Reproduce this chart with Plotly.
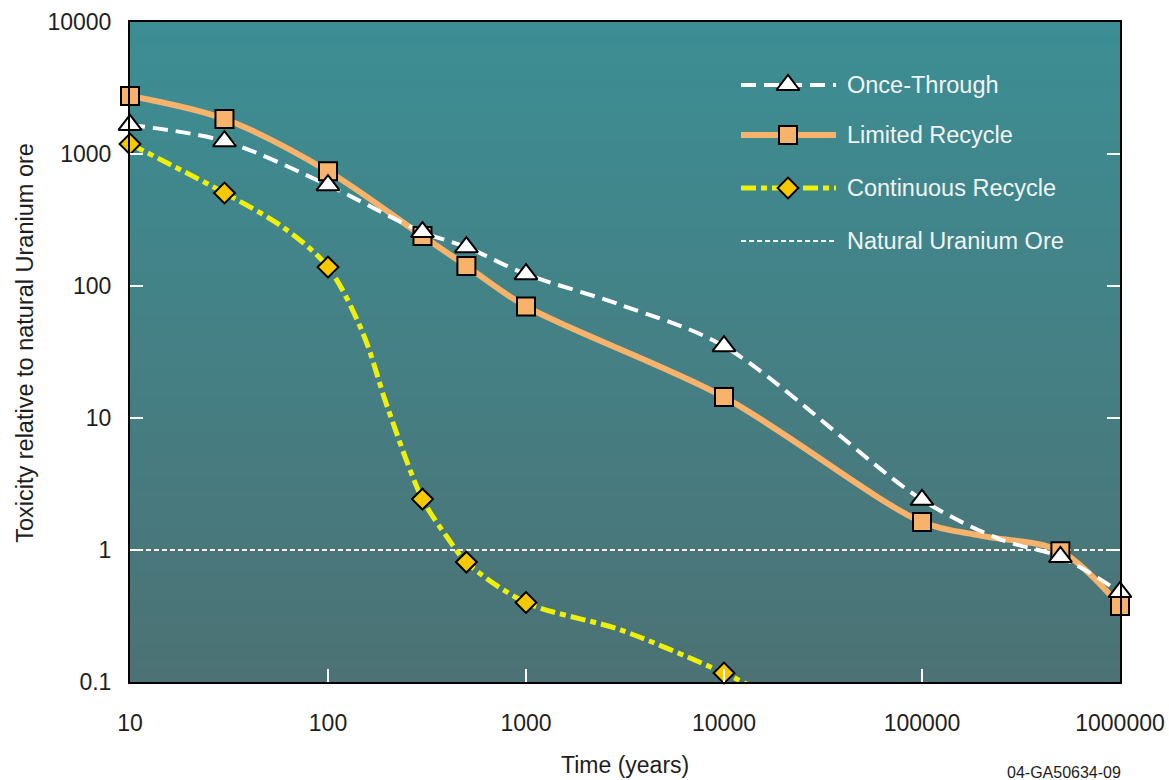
import plotly.graph_objects as go

# ---- data: years after discharge vs. radiotoxicity relative to natural uranium ore
# flag = 1 where a symbol is plotted, 0 for a point that only shapes the curve
ot_years = [10, 30, 100, 300, 500, 1000, 3000, 10000, 100000, 250000, 500000, 1000000]
ot_tox = [1660, 1250, 580, 256, 197, 123, 72, 35, 2.4, 1.2, 0.885, 0.48]
ot_mark = [1, 1, 1, 1, 1, 1, 0, 1, 1, 0, 1, 1]

lr_years = [10, 30, 100, 300, 500, 1000, 10000, 100000, 200000, 500000, 1000000]
lr_tox = [2750, 1840, 740, 239, 142, 70, 14.4, 1.63, 1.28, 0.98, 0.377]
lr_mark = [1, 1, 1, 1, 1, 1, 1, 1, 0, 1, 1]

cr_years = [10, 30, 60, 100, 150, 200, 300, 400, 500, 1000, 3000, 10000, 13000]
cr_tox = [1190, 507, 275, 139, 44, 12, 2.43, 1.25, 0.81, 0.40, 0.248, 0.117, 0.0966]
cr_mark = [1, 1, 0, 1, 0, 0, 1, 0, 1, 1, 0, 1, 0]

ore_level = 1.0

x_ticks = [10, 100, 1000, 10000, 100000, 1000000]
x_tick_text = ["10", "100", "1000", "10000", "100000", "1000000"]
y_ticks = [0.1, 1, 10, 100, 1000, 10000]
y_tick_text = ["0.1", "1", "10", "100", "1000", "10000"]

names = ["Once-Through", "Limited Recycle", "Continuous Recycle", "Natural Uranium Ore"]

# ---- styling
FONT = "Liberation Sans, Arial, Helvetica, sans-serif"
ORANGE = "#F7B26B"
YELLOW = "#EEF00A"
GOLD = "#F6C800"
WHITE = "#FFFFFF"
TEXT = "#1E1E1E"
TOP_BG = (60, 142, 148)
BOTTOM_BG = (76, 114, 117)

ot_line = dict(color=WHITE, width=4, dash="15px,8px")
lr_line = dict(color=ORANGE, width=6)
cr_line = dict(color=YELLOW, width=5, dash="15px,5px,6px,5px")
ore_line = dict(color="#F4F4F4", width=2, dash="5px,3px")

ot_marker = dict(symbol="triangle-up", size=20, color=WHITE, line=dict(color="black", width=2))
lr_marker = dict(symbol="square", size=18, color=ORANGE, line=dict(color="black", width=2))
cr_marker = dict(symbol="diamond", size=16, color=GOLD, line=dict(color="black", width=2))


def picked(values, flags):
    return [v for v, f in zip(values, flags) if f]


fig = go.Figure()

# reference level
fig.add_trace(go.Scatter(x=[x_ticks[0], x_ticks[-1]], y=[ore_level, ore_level],
                         mode="lines", line=ore_line, hoverinfo="skip"))

# smooth curves
fig.add_trace(go.Scatter(x=lr_years, y=lr_tox, mode="lines",
                         line=dict(**lr_line, shape="spline", smoothing=0.9)))
fig.add_trace(go.Scatter(x=ot_years, y=ot_tox, mode="lines",
                         line=dict(**ot_line, shape="spline", smoothing=0.9)))
fig.add_trace(go.Scatter(x=cr_years, y=cr_tox, mode="lines",
                         line=dict(**cr_line, shape="spline", smoothing=0.9)))

# symbols
fig.add_trace(go.Scatter(x=picked(lr_years, lr_mark), y=picked(lr_tox, lr_mark),
                         mode="markers", marker=lr_marker, cliponaxis=False))
fig.add_trace(go.Scatter(x=picked(cr_years, cr_mark), y=picked(cr_tox, cr_mark),
                         mode="markers", marker=cr_marker, cliponaxis=False))
fig.add_trace(go.Scatter(x=picked(ot_years, ot_mark), y=picked(ot_tox, ot_mark),
                         mode="markers", marker=ot_marker, cliponaxis=False))

# ---- legend keys drawn on a hidden overlay axis measured in pixels of the plot area
L_X0, L_X1, L_XM, L_TEXT = 741, 836, 788, 845
L_ROWS = [85, 135, 188, 241]
key_lines = [ot_line, lr_line, cr_line, ore_line]
key_markers = [ot_marker, lr_marker, cr_marker, None]
for row, ln, mk in zip(L_ROWS, key_lines, key_markers):
    fig.add_trace(go.Scatter(x=[L_X0, L_X1], y=[row, row], mode="lines", line=ln,
                             xaxis="x2", yaxis="y2", hoverinfo="skip"))
    if mk is not None:
        fig.add_trace(go.Scatter(x=[L_XM], y=[row], mode="markers", marker=mk,
                                 xaxis="x2", yaxis="y2", hoverinfo="skip"))

annotations = []
for row, name in zip(L_ROWS, names):
    annotations.append(dict(x=L_TEXT, y=row, xref="x2", yref="y2", text=name,
                            showarrow=False, xanchor="left", yanchor="middle",
                            font=dict(family=FONT, size=23.5, color="#F2F4F4")))

# axis titles and figure code
annotations.append(dict(x=0.5, y=-0.126, xref="paper", yref="paper", text="Time (years)",
                        showarrow=False, xanchor="center", yanchor="middle",
                        font=dict(family=FONT, size=23, color=TEXT)))
annotations.append(dict(x=-0.106, y=0.514, xref="paper", yref="paper",
                        text="Toxicity relative to natural Uranium ore", textangle=-90,
                        showarrow=False, xanchor="center", yanchor="middle",
                        font=dict(family=FONT, size=23.5, color=TEXT)))
annotations.append(dict(x=0.943, y=-0.137, xref="paper", yref="paper", text="04-GA50634-09",
                        showarrow=False, xanchor="center", yanchor="middle",
                        font=dict(family=FONT, size=16, color=TEXT)))

# ---- vertical background gradient
shapes = []
n_bands = 90
for i in range(n_bands):
    t = i / (n_bands - 1)
    rgb = tuple(round(a + (b - a) * t) for a, b in zip(TOP_BG, BOTTOM_BG))
    shapes.append(dict(type="rect", xref="x domain", yref="y domain",
                       x0=0, x1=1, y0=1 - (i + 1) / n_bands - 0.002, y1=1 - i / n_bands,
                       fillcolor="rgb(%d,%d,%d)" % rgb, line=dict(width=0), layer="below"))

axis_common = dict(showgrid=False, zeroline=False, showline=True, linecolor="black",
                   linewidth=2, ticks="inside", ticklen=13, tickwidth=2, tickcolor=WHITE,
                   automargin=False,
                   tickfont=dict(family=FONT, size=23, color=TEXT))

fig.update_layout(
    width=1169, height=780,
    margin=dict(l=130, r=49, t=22, b=98),
    paper_bgcolor="white",
    plot_bgcolor="rgb(%d,%d,%d)" % TOP_BG,
    showlegend=False,
    shapes=shapes,
    annotations=annotations,
    xaxis=dict(type="log", range=[1, 6], tickvals=x_ticks, ticktext=x_tick_text,
               mirror=True, ticklabelstandoff=19, **axis_common),
    yaxis=dict(type="log", range=[-1, 4], tickvals=y_ticks, ticktext=y_tick_text,
               mirror="ticks", ticklabelstandoff=12, **axis_common),
    xaxis2=dict(overlaying="x", range=[130, 1120], visible=False, fixedrange=True),
    yaxis2=dict(overlaying="y", range=[682, 22], visible=False, fixedrange=True),
)

fig.write_html("out.html")
